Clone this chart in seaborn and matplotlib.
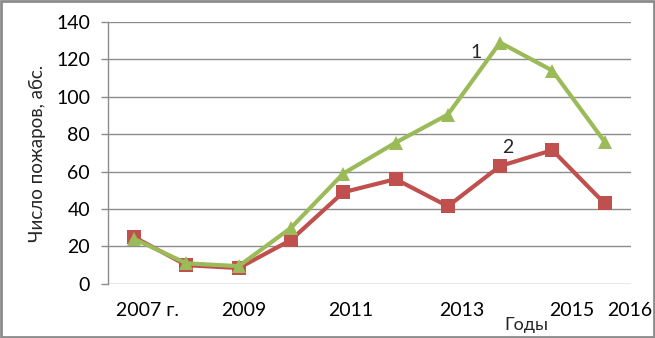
import matplotlib
matplotlib.use("Agg")
import matplotlib.pyplot as plt
import seaborn as sns
import pandas as pd

years = [2007, 2008, 2009, 2010, 2011, 2012, 2013, 2014, 2015, 2016]
series1 = [24, 11, 9.5, 30, 59, 75.5, 90.5, 129, 114, 76]
series2 = [25, 10, 8.5, 23.5, 49, 56, 41.5, 63, 71.5, 43]
tick_labels = ["2007 г.", "2009", "2011", "2013", "2015", "2016"]
tick_pos = [0.25, 2.1, 4.15, 6.27, 8.37, 9.48]

sns.set_theme(style="white")
plt.rcParams['font.family'] = ['Lato', 'DejaVu Sans']

df = pd.DataFrame({
    "x": list(range(len(years))) * 2,
    "y": series1 + series2,
    "s": ["1"] * len(years) + ["2"] * len(years),
})

fig = plt.figure(figsize=(6.55, 3.38), dpi=100)
ax = fig.add_axes([0.165, 0.160, 0.798, 0.775])
sns.lineplot(data=df, x="x", y="y", hue="s", style="s",
             palette={"1": "#9BBB59", "2": "#C0504D"},
             markers={"1": "^", "2": "s"}, dashes=False,
             markersize=10, markeredgewidth=0, linewidth=3,
             legend=False, ax=ax, zorder=3)
ax.lines[0].set_zorder(4)

ax.set_xlim(-0.5, 9.5)
ax.set_ylim(0, 140)
ax.set_yticks(range(0, 141, 20))
ax.yaxis.grid(True, color="#8c8c8c", linewidth=1)
ax.set_axisbelow(True)
ax.set_xticks(tick_pos)
ax.set_xticklabels(tick_labels)
ax.tick_params(axis="x", length=0, pad=13, labelsize=14, colors="black")
ax.tick_params(axis="y", length=5, width=1, color="#8c8c8c", pad=8, labelsize=14, colors="black")
ax.yaxis.set_ticks_position("left")
for s in ["top", "right", "bottom"]:
    ax.spines[s].set_visible(False)
ax.spines["left"].set_color("#8c8c8c")
ax.spines["left"].set_linewidth(1)
ax.set_xlabel("")
ax.set_ylabel("Число пожаров, абс.", fontsize=13.5, labelpad=7)

ax.text(6.54, 123.5, "1", fontsize=14, ha="center", va="center")
ax.text(7.15, 72.7, "2", fontsize=14, ha="center", va="center")
fig.text(526 / 655, 1 - 325 / 338, "Годы", fontsize=13, ha="center", va="center")

fig.patches.append(plt.Rectangle((0.002, 0.003), 0.996, 0.994, transform=fig.transFigure,
                                 fill=False, edgecolor="#8c8c8c", linewidth=2))
fig.savefig("out.png", dpi=100)
